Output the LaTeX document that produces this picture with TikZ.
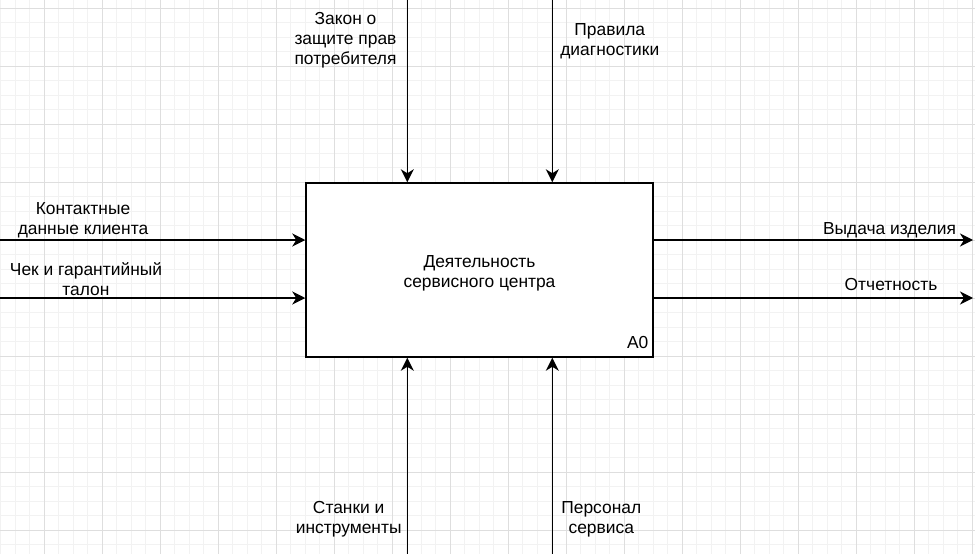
\documentclass[tikz,border=0pt]{standalone}
\usepackage{fontspec}
\setmainfont{Liberation Sans}
\usetikzlibrary{arrows.meta}
\definecolor{gridminor}{HTML}{F2F2F2}
\definecolor{gridmajor}{HTML}{DEDEDE}
\tikzset{
  arr/.style={-{Stealth[length=13pt,width=13pt,inset=4pt]}, line width=1.5pt, black},
  lbl/.style={align=center, inner sep=0pt, anchor=base, font=\fontsize{17.4}{20}\selectfont},
  boxstyle/.style={draw, line width=1.5pt, minimum width=347pt, minimum height=174pt, inner sep=0pt, fill=white},
}
\begin{document}
\begin{tikzpicture}[x=1pt,y=-1pt]
\useasboundingbox (0,0) rectangle (975,554);
\fill[white] (0,0) rectangle (975,554);
% grid
\foreach \i in {-3,...,64} {
  \pgfmathsetmacro{\gx}{44.3+14.5*\i}
  \draw[gridminor, line width=1pt] (\gx,0) -- (\gx,554);
}
\foreach \i in {-1,...,38} {
  \pgfmathsetmacro{\gy}{8.3+14.5*\i}
  \draw[gridminor, line width=1pt] (0,\gy) -- (975,\gy);
}
\foreach \i in {0,...,16} {
  \pgfmathsetmacro{\gx}{44.3+58*\i}
  \draw[gridmajor, line width=1pt] (\gx,0) -- (\gx,554);
}
\foreach \i in {0,...,9} {
  \pgfmathsetmacro{\gy}{8.3+58*\i}
  \draw[gridmajor, line width=1pt] (0,\gy) -- (975,\gy);
}
% main box
\node[boxstyle] (box) at (479.5,270) {};
\node[lbl] (title) at (479.5,287) {Деятельность\\сервисного центра};
\node[lbl, anchor=base east] (a0) at (648.5,348.3) {A0};
% free ends
\coordinate (ct1) at (407.3,0);
\coordinate (ct2) at (552.3,0);
\coordinate (cb1) at (407.3,554);
\coordinate (cb2) at (552.3,554);
\coordinate (in1) at (0,240);
\coordinate (in2) at (0,298);
\coordinate (out1) at (973,240);
\coordinate (out2) at (973,298);
% connectors
\draw[arr] (ct1) -- (ct1 |- box.north);
\draw[arr] (ct2) -- (ct2 |- box.north);
\draw[arr] (cb1) -- (cb1 |- box.south);
\draw[arr] (cb2) -- (cb2 |- box.south);
\draw[arr] (in1) -- (in1 -| box.west);
\draw[arr] (in2) -- (in2 -| box.west);
\draw[arr] (out1 -| box.east) -- (out1);
\draw[arr] (out2 -| box.east) -- (out2);
% labels
\node[lbl] (lt1) at (345.5,64.5) {Закон о\\защите прав\\потребителя};
\node[lbl] (lt2) at (609.8,55) {Правила\\диагностики};
\node[lbl] (li1) at (83,234.3) {Контактные\\данные клиента};
\node[lbl] (li2) at (86,295) {Чек и гарантийный\\талон};
\node[lbl] (lo1) at (889.5,234) {Выдача изделия};
\node[lbl] (lo2) at (891,290.7) {Отчетность};
\node[lbl] (lb1) at (348.7,533.5) {Станки и\\инструменты};
\node[lbl] (lb2) at (601.3,533.5) {Персонал\\сервиса};
\end{tikzpicture}
\end{document}
